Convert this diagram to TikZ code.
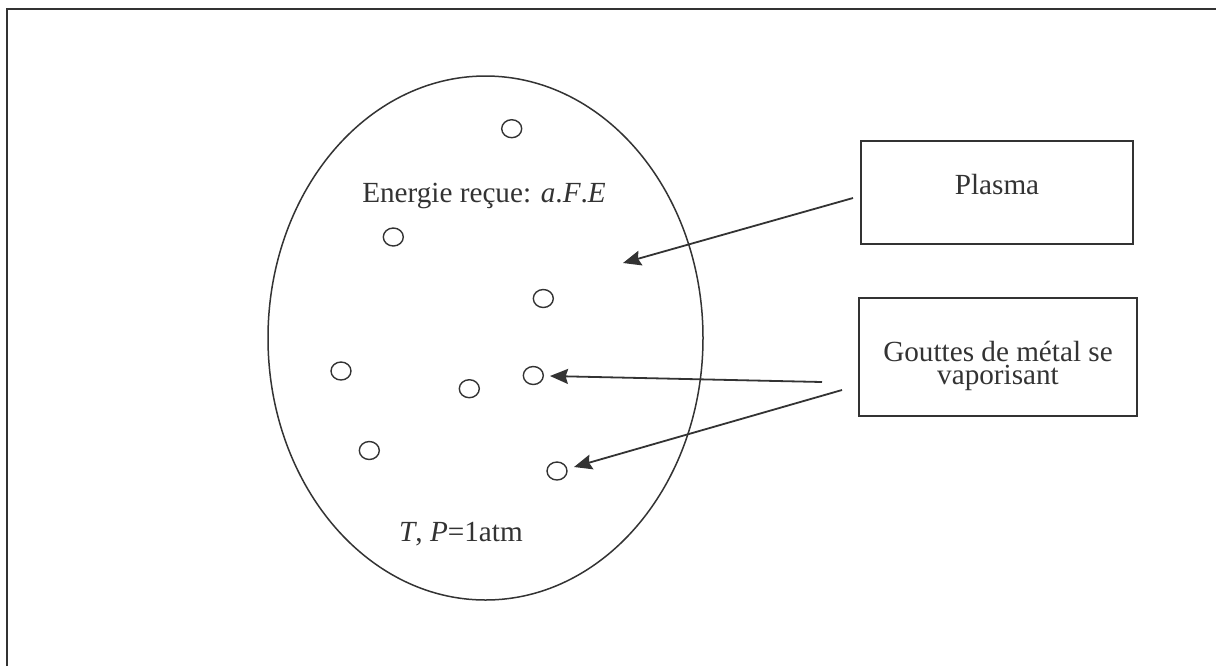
\documentclass[tikz,border=0pt]{standalone}
\usepackage{fontspec}
\setmainfont{Liberation Serif}
\usetikzlibrary{shapes.geometric,arrows.meta}
\definecolor{ink}{HTML}{333333}
\begin{document}
\begin{tikzpicture}[x=0.5pt,y=-0.5pt,
  every node/.style={inner sep=0pt,outer sep=0pt,text=ink,font=\fontsize{14.6}{11.6}\selectfont},
  box/.style={draw=ink,line width=0.9pt,rectangle},
  drop/.style={draw=ink,line width=0.7pt,ellipse,minimum width=10pt,minimum height=9pt},
  arr/.style={draw=ink,line width=0.9pt,-{Stealth[length=9pt,width=7.5pt,inset=1.2pt]}},
  lbl/.style={anchor=base,align=center}]
\useasboundingbox (0,0) rectangle (1216,666);
\fill[white] (0,0) rectangle (1216,666);
% frame
\draw[ink,line width=1pt] (7,666) -- (7,9) -- (1216,9);
% plasma region
\draw[ink,line width=0.75pt] (485.5,338) ellipse [x radius=108.75pt,y radius=131pt];
% droplets
\node[drop] (c1) at (511.7,128.7) {};
\node[drop] (c2) at (393.3,237) {};
\node[drop] (c3) at (543.3,298.5) {};
\node[drop] (c4) at (341,371) {};
\node[drop] (c5) at (469.3,388.7) {};
\node[drop] (c6) at (533.3,375.5) {};
\node[drop] (c7) at (369.3,450.5) {};
\node[drop] (c8) at (557,471) {};
% texts
\node[lbl] (energie) at (484,202) {Energie reçue: \textit{a}.\textit{F}.\textit{E}};
\node[lbl] (tp) at (461,541) {\textit{T}, \textit{P}=1atm};
% boxes
\node[box,minimum width=136pt,minimum height=51.5pt] (plasma) at (997,192.5) {};
\node[lbl] (plasmatxt) at (997,194) {Plasma};
\node[box,minimum width=139pt,minimum height=59pt] (gouttes) at (998,357) {};
\node[lbl] (gouttestxt) at (998,384.5) {Gouttes de métal se\\vaporisant};
% arrows
\coordinate (a1s) at (853,198);
\coordinate (a1e) at (623,263);
\coordinate (a2s) at (822,382);
\coordinate (a2e) at (550,376);
\coordinate (a3s) at (842,390);
\coordinate (a3e) at (574,467);
\draw[arr] (a1s) -- (a1e);
\draw[arr] (a2s) -- (a2e);
\draw[arr] (a3s) -- (a3e);
\end{tikzpicture}
\end{document}
